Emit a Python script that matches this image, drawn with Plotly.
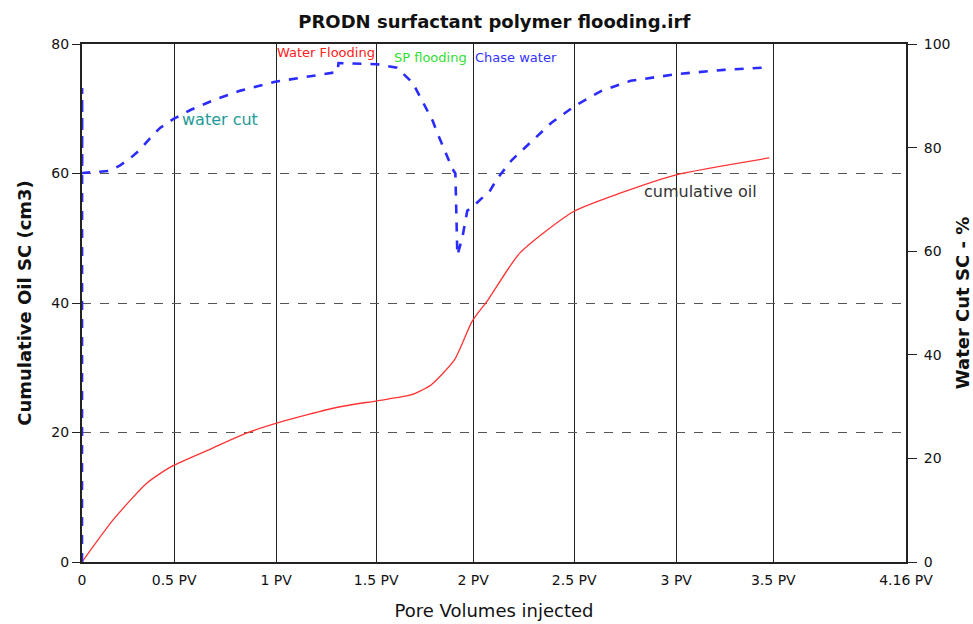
import plotly.graph_objects as go

# ---- data ----
pv_oil = [0.0, 0.157, 0.328, 0.455, 0.66, 0.83, 1.0, 1.29, 1.49, 1.66, 1.76, 1.88,
          1.97, 2.05, 2.21, 2.48, 2.72, 3.0, 3.47]
cum_oil = [0.0, 6.5, 12.2, 14.8, 17.6, 19.9, 21.6, 23.9, 24.9, 25.8, 27.3, 31.2,
           37.2, 40.5, 47.7, 54.1, 57.0, 59.8, 62.4]

pv_wc = [0.0, 0.0005, 0.001, 0.14, 0.19, 0.245, 0.293, 0.343, 0.394, 0.46, 0.55, 0.68,
         0.8, 0.975, 1.15, 1.29, 1.295, 1.49, 1.59, 1.67, 1.77, 1.79, 1.87, 1.885,
         1.895, 1.92, 1.945, 1.99, 2.06, 2.096, 2.17, 2.263, 2.37, 2.49, 2.62, 2.77,
         3.005, 3.24, 3.475]
water_cut = [0.0, 91.5, 75.1, 75.5, 76.5, 78.0, 79.6, 81.8, 83.8, 85.5, 87.3, 89.4,
             91.0, 92.7, 93.8, 94.6, 96.3, 96.1, 95.4, 92.5, 85.2, 83.2, 75.9, 75.0,
             59.2, 62.6, 67.8, 69.2, 71.7, 74.0, 77.6, 80.9, 84.8, 88.1, 90.9, 92.9,
             94.2, 95.0, 95.5]

tick_pos = [0, 0.465, 0.98, 1.485, 1.975, 2.485, 3.0, 3.49, 4.16]
tick_text = ["0", "0.5 PV", "1 PV", "1.5 PV", "2 PV", "2.5 PV", "3 PV", "3.5 PV", "4.16 PV"]

FONT = "DejaVu Sans, Liberation Sans, Arial, sans-serif"

fig = go.Figure()
fig.add_trace(go.Scatter(x=pv_oil, y=cum_oil, mode="lines", name="cumulative oil",
                         line=dict(color="#ff3333", width=1.3, shape="spline", smoothing=0.6),
                         yaxis="y"))
fig.add_trace(go.Scatter(x=pv_wc, y=water_cut, mode="lines", name="water cut",
                         line=dict(color="#2b2bff", width=2.6, dash="dash"),
                         yaxis="y2"))

fig.update_layout(
    width=973, height=624,
    margin=dict(l=82, r=67, t=44, b=62),
    paper_bgcolor="white", plot_bgcolor="white",
    showlegend=False,
    font=dict(family=FONT, size=14, color="#111"),
    title=dict(text="<b>PRODN surfactant polymer flooding.irf</b>", x=0.508, xanchor="center",
               y=0.966, yanchor="middle", font=dict(size=18, color="#111")),
    xaxis=dict(range=[0, 4.16], tickvals=tick_pos, ticktext=tick_text,
               showgrid=True, gridcolor="#222", gridwidth=1.4,
               showline=True, linecolor="#222", linewidth=2, mirror=True,
               ticks="", zeroline=False, tickfont=dict(size=14), automargin=False,
               ticklabelstandoff=4,
               title=dict(text="Pore Volumes injected", font=dict(size=18), standoff=18)),
    yaxis=dict(range=[0, 80], tickvals=[0, 20, 40, 60, 80],
               showgrid=True, gridcolor="#555", gridwidth=1.4, griddash="dash",
               showline=True, linecolor="#222", linewidth=2, automargin=False,
               ticks="outside", ticklen=8, tickcolor="#222", zeroline=False,
               tickfont=dict(size=14),
               title=dict(text="<b>Cumulative Oil SC (cm3)</b>", font=dict(size=18), standoff=15)),
    yaxis2=dict(range=[0, 100], tickvals=[0, 20, 40, 60, 80, 100], overlaying="y", side="right",
                showgrid=False, showline=True, linecolor="#222", linewidth=2, automargin=False,
                ticks="outside", ticklen=9, tickcolor="#222", zeroline=False,
                ticklabelstandoff=4, tickfont=dict(size=14),
                title=dict(text="<b>Water Cut SC - %</b>", font=dict(size=18), standoff=14)),
)

anns = [
    dict(x=1.23, y=98.3, text="Water Flooding", color="#ff2020", size=13),
    dict(x=1.76, y=97.3, text="SP flooding", color="#33dd33", size=13),
    dict(x=2.19, y=97.3, text="Chase water", color="#3333ff", size=13),
    dict(x=0.695, y=85.5, text="water cut", color="#1f9a9a", size=16),
    dict(x=3.12, y=71.6, text="cumulative oil", color="#333", size=16),
]
for a in anns:
    fig.add_annotation(x=a["x"], y=a["y"], xref="x", yref="y2", text=a["text"],
                       showarrow=False, xanchor="center", yanchor="middle",
                       font=dict(color=a["color"], size=a["size"], family=FONT))

fig.write_html("out.html")
